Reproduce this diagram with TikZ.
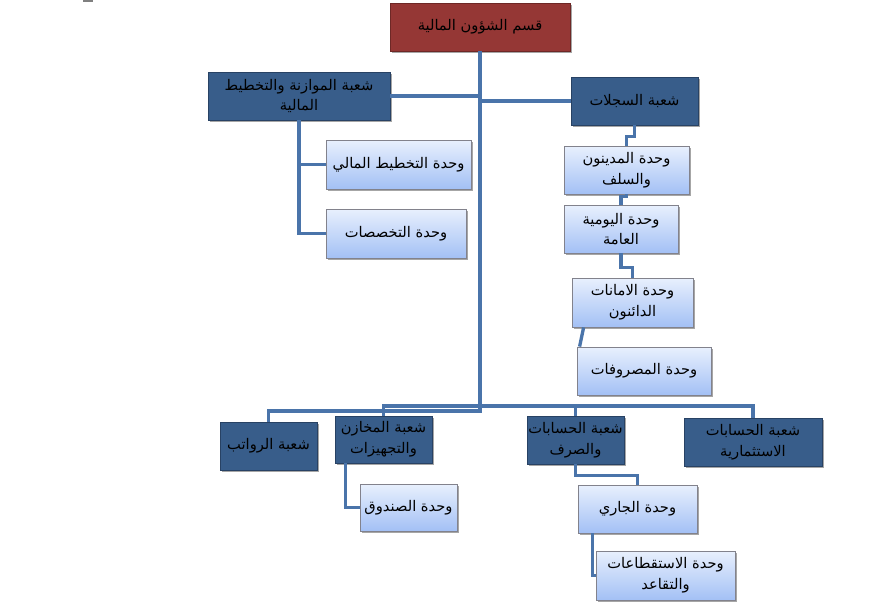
\documentclass[tikz,border=0pt]{standalone}
\usepackage{fontspec}
\newfontfamily\arabicfont[Script=Arabic]{DejaVu Sans}
\TeXXeTstate=1
\usetikzlibrary{shadows,calc}
\definecolor{darkbox}{RGB}{56,93,138}
\definecolor{darkboxline}{RGB}{40,66,100}
\definecolor{redbox}{RGB}{149,55,53}
\definecolor{redboxline}{RGB}{110,40,38}
\definecolor{lighttop}{RGB}{232,240,253}
\definecolor{lightbot}{RGB}{163,192,245}
\definecolor{lightline}{RGB}{130,130,140}
\definecolor{conn}{RGB}{74,116,170}
\newcommand\ar[1]{\beginR #1\endR}
\tikzset{
  basebox/.style={rectangle, inner sep=1pt, align=center, text=black,
    font=\arabicfont\fontsize{11}{15.5}\selectfont,
    drop shadow={shadow xshift=1.6pt, shadow yshift=-1.6pt, fill=black, opacity=0.35}},
  redstyle/.style={basebox, fill=redbox, draw=redboxline, line width=0.6pt},
  darkstyle/.style={basebox, fill=darkbox, draw=darkboxline, line width=0.6pt},
  lightstyle/.style={basebox, top color=lighttop, bottom color=lightbot, draw=lightline, line width=0.6pt},
  connector/.style={draw=conn, line width=2.5pt}
}
\newcommand\mybox[7]{%
  \node[#2, minimum width={(#5-#3)*0.75pt}, minimum height={(#6-#4)*0.75pt}]
    (#1) at ({(#3+#5)/2},{(#4+#6)/2}) {#7};}
\begin{document}
\begin{tikzpicture}[x=0.75pt,y=-0.75pt]
\useasboundingbox (0,0) rectangle (871,615);
\fill[gray] (83,0) rectangle (93,1.5);
\coordinate (lowbus) at (480,411);
\coordinate (upbus) at (480,406);
\mybox{top}{redstyle}{390}{3}{570}{51}{\ar{قسم الشؤون المالية}}
\mybox{mwz}{darkstyle}{208}{72}{390}{120}{\ar{شعبة الموازنة والتخطيط}\\\ar{المالية}}
\mybox{sij}{darkstyle}{571}{77}{698}{125}{\ar{شعبة السجلات}}
\mybox{tk}{lightstyle}{326}{140}{471}{189}{\ar{وحدة التخطيط المالي}}
\mybox{tks}{lightstyle}{326}{209}{466}{258}{\ar{وحدة التخصصات}}
\mybox{mad}{lightstyle}{564}{146}{689}{194}{\ar{وحدة المدينون}\\\ar{والسلف}}
\mybox{yaw}{lightstyle}{564}{205}{678}{253}{\ar{وحدة اليومية}\\\ar{العامة}}
\mybox{aman}{lightstyle}{572}{278}{693}{327}{\ar{وحدة الامانات}\\\ar{الدائنون}}
\mybox{masr}{lightstyle}{577}{347}{711}{395}{\ar{وحدة المصروفات}}
\mybox{rwt}{darkstyle}{220}{422}{317}{470}{\ar{شعبة الرواتب}}
\mybox{mkh}{darkstyle}{335}{416}{432}{463}{\ar{شعبة المخازن}\\\ar{والتجهيزات}}
\mybox{hsb}{darkstyle}{527}{416}{624}{464}{\ar{شعبة الحسابات}\\\ar{والصرف}}
\mybox{ist}{darkstyle}{684}{418}{822}{466}{\ar{شعبة الحسابات}\\\ar{الاستثمارية}}
\mybox{snd}{lightstyle}{360}{484}{457}{531}{\ar{وحدة الصندوق}}
\mybox{jari}{lightstyle}{578}{485}{697}{533}{\ar{وحدة الجاري}}
\mybox{taq}{lightstyle}{596}{551}{735}{600}{\ar{وحدة الاستقطاعات}\\\ar{والتقاعد}}
\draw[connector] (top.south) -- (lowbus) -| (rwt.north);
\draw[connector] (mwz.east) -- (mwz.east -| top.south);
\draw[connector] (sij.west) -- (sij.west -| top.south);
\draw[connector] (mwz.south) |- (tks.west);
\draw[connector] (mwz.south |- tk.west) -- (tk.west);
\draw[connector] (sij.south) -- ++(0,11) -| (mad.north);
\draw[connector] (mad.south) -- ++(0,2) -| (yaw.north);
\draw[connector] (yaw.south) -- ++(0,14) -| (aman.north);
\draw[connector] ($(aman.south west)+(12,0)$) -- ($(masr.north west)+(3,0)$);
\draw[connector] (mkh.north) |- (upbus) -| (ist.north);
\draw[connector] (hsb.north) -- (hsb.north |- upbus);
\draw[connector] ($(mkh.south west)+(11,0)$) |- (snd.west);
\draw[connector] (hsb.south) -- ++(0,11) -| (jari.north);
\draw[connector] ($(jari.south west)+(15,0)$) |- (taq.west);
\end{tikzpicture}
\end{document}
